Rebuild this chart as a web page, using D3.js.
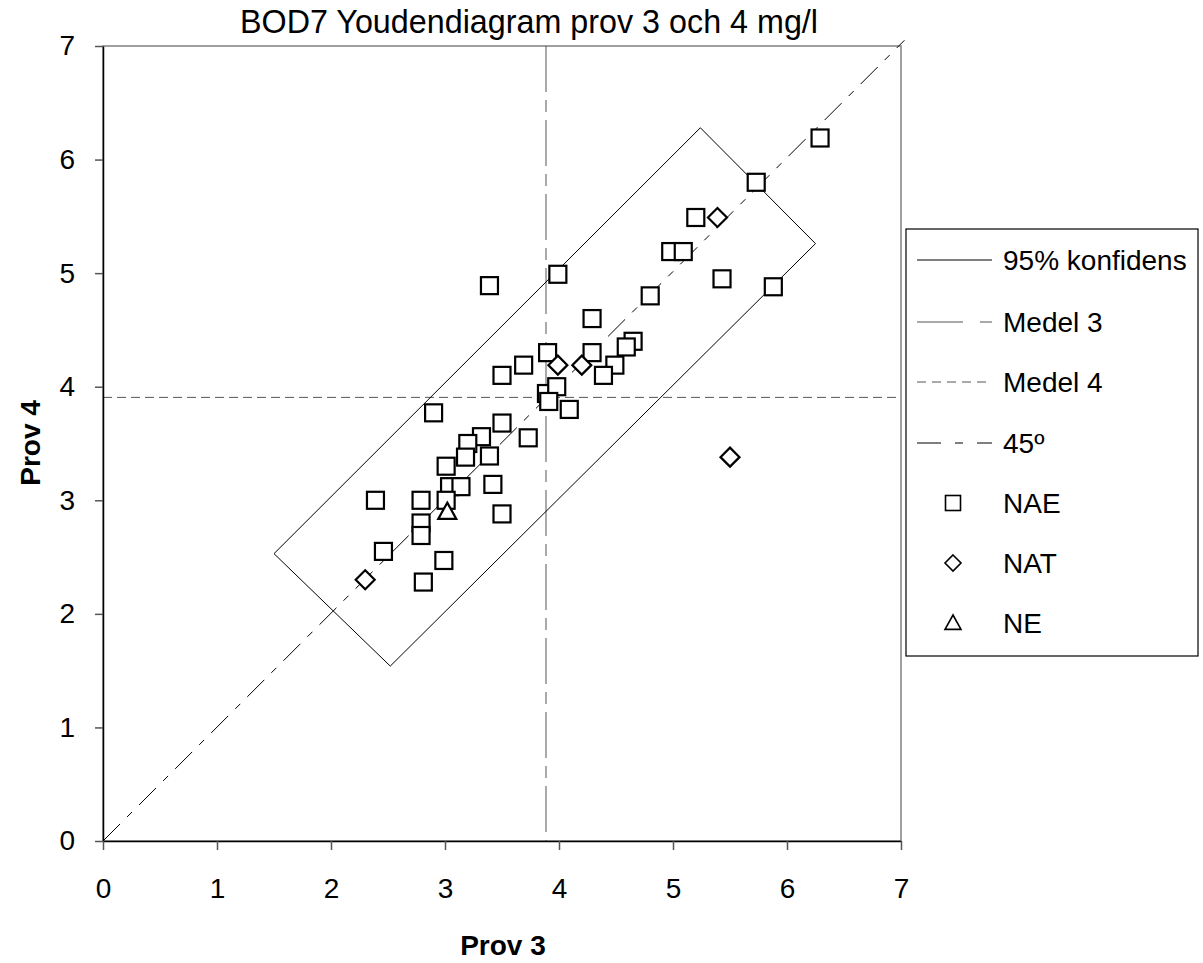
<!DOCTYPE html>
<html>
<head>
<meta charset="utf-8">
<script src="https://cdn.jsdelivr.net/npm/d3@7"></script>
<style>
  html, body { margin: 0; padding: 0; background: #fff; }
  svg { display: block; font-family: "Liberation Sans", Arial, sans-serif; }
</style>
</head>
<body>
<svg id="chart" width="1203" height="963"></svg>
<script>
// ---- data ----
const xTicks = [0, 1, 2, 3, 4, 5, 6, 7];
const yTicks = [0, 1, 2, 3, 4, 5, 6, 7];

const naeX = [6.29, 5.73, 5.20, 4.98, 5.09, 5.43, 5.88, 3.99, 3.39, 4.80, 4.29, 4.65, 4.59, 4.29, 3.90,
              3.69, 4.49, 3.50, 4.39, 3.89, 3.98, 3.91, 4.09, 2.90, 3.50, 3.73, 3.32, 3.20, 3.18, 3.39,
              3.01, 3.04, 3.14, 3.42, 2.39, 2.79, 3.01, 3.50, 2.79, 2.79, 2.46, 2.99, 2.81];
const naeY = [6.19, 5.80, 5.49, 5.19, 5.19, 4.95, 4.88, 4.99, 4.89, 4.80, 4.60, 4.40, 4.35, 4.30, 4.30,
              4.19, 4.19, 4.10, 4.10, 3.94, 4.00, 3.87, 3.80, 3.77, 3.68, 3.55, 3.56, 3.50, 3.38, 3.39,
              3.30, 3.12, 3.12, 3.14, 3.00, 3.00, 3.00, 2.88, 2.80, 2.69, 2.55, 2.47, 2.28];
const natX = [5.39, 3.99, 4.20, 5.50, 2.30];
const natY = [5.49, 4.19, 4.19, 3.38, 2.30];
const neX = [3.02];
const neY = [2.90];

// 95% confidence rectangle vertices (prov 3, prov 4)
const confX = [5.24, 6.25, 2.52, 1.50, 5.24];
const confY = [6.28, 5.26, 1.54, 2.53, 6.28];

const medel3 = 3.886;
const medel4 = 3.906;

const legendLabels = ["95% konfidens", "Medel 3", "Medel 4", "45º", "NAE", "NAT", "NE"];

// ---- drawing ----
const svg = d3.select("#chart");
const x = d3.scaleLinear().domain([0, 7]).range([103, 901]);
const y = d3.scaleLinear().domain([0, 7]).range([841, 46]);

// frame (top / right gray)
svg.append("rect")
  .attr("x", x(0)).attr("y", y(7))
  .attr("width", x(7) - x(0)).attr("height", y(0) - y(7))
  .attr("fill", "none").attr("stroke", "#808080").attr("stroke-width", 1.5);

const plot = svg.append("g");

// Medel 3 vertical
plot.append("line")
  .attr("x1", x(medel3)).attr("x2", x(medel3))
  .attr("y1", y(7)).attr("y2", y(0))
  .attr("stroke", "#555").attr("stroke-width", 1)
  .attr("stroke-dasharray", "46,8,12,8");

// Medel 4 horizontal
plot.append("line")
  .attr("x1", x(0)).attr("x2", x(7))
  .attr("y1", y(medel4)).attr("y2", y(medel4))
  .attr("stroke", "#555").attr("stroke-width", 1)
  .attr("stroke-dasharray", "9,5");

// 45 degree line
plot.append("line")
  .attr("x1", x(0)).attr("y1", y(0))
  .attr("x2", x(7.03)).attr("y2", y(7.05))
  .attr("stroke", "#000").attr("stroke-width", 1)
  .attr("stroke-dasharray", "24,10,7,10");

// confidence rectangle
const line = d3.line().x(d => x(d[0])).y(d => y(d[1]));
plot.append("path")
  .attr("d", line(confX.map((v, i) => [v, confY[i]])))
  .attr("fill", "none").attr("stroke", "#000").attr("stroke-width", 1);

// axes
const yAxis = d3.axisLeft(y).tickValues(yTicks).tickSize(8).tickSizeOuter(0).tickPadding(20)
  .tickFormat(d3.format("d"));
const gy = svg.append("g").attr("transform", `translate(${x(0)},0)`).call(yAxis);
gy.select(".domain").attr("stroke", "#000").attr("stroke-width", 1.5);
gy.selectAll(".tick line").attr("stroke", "#555").attr("stroke-width", 1.5);
gy.selectAll(".tick text").attr("font-size", 28).attr("fill", "#000")
  .attr("font-family", "Liberation Sans, Arial, sans-serif");

const xAxis = d3.axisBottom(x).tickValues(xTicks).tickSize(9).tickSizeOuter(0).tickPadding(28)
  .tickFormat(d3.format("d"));
const gx = svg.append("g").attr("transform", `translate(0,${y(0)})`).call(xAxis);
gx.select(".domain").attr("stroke", "#000").attr("stroke-width", 1.5);
gx.selectAll(".tick line").attr("stroke", "#555").attr("stroke-width", 1.5);
gx.selectAll(".tick text").attr("font-size", 28).attr("fill", "#000")
  .attr("font-family", "Liberation Sans, Arial, sans-serif");

// markers
const sq = 17, dia = 9.5, tri = 9;
function drawSquare(g, cx, cy, s, sw) {
  g.append("rect").attr("x", cx - s / 2).attr("y", cy - s / 2)
    .attr("width", s).attr("height", s)
    .attr("fill", "#fff").attr("stroke", "#000").attr("stroke-width", sw);
}
function drawDiamond(g, cx, cy, r, sw) {
  g.append("path").attr("d", `M${cx},${cy - r}L${cx + r},${cy}L${cx},${cy + r}L${cx - r},${cy}Z`)
    .attr("fill", "#fff").attr("stroke", "#000").attr("stroke-width", sw);
}
function drawTriangle(g, cx, cy, r, sw) {
  g.append("path").attr("d", `M${cx},${cy - r}L${cx + r},${cy + r * 0.8}L${cx - r},${cy + r * 0.8}Z`)
    .attr("fill", "#fff").attr("stroke", "#000").attr("stroke-width", sw);
}
const mg = svg.append("g");
naeX.forEach((v, i) => drawSquare(mg, x(v), y(naeY[i]), sq, 2.2));
natX.forEach((v, i) => drawDiamond(mg, x(v), y(natY[i]), dia, 2.2));
neX.forEach((v, i) => drawTriangle(mg, x(v), y(neY[i]), tri, 2.2));

// titles
svg.append("text").attr("x", 529).attr("y", 33).attr("text-anchor", "middle")
  .attr("font-size", 34).attr("textLength", 578).attr("lengthAdjust", "spacingAndGlyphs")
  .text("BOD7 Youdendiagram prov 3 och 4 mg/l");
svg.append("text").attr("x", 503).attr("y", 955).attr("text-anchor", "middle")
  .attr("font-size", 28).attr("font-weight", "bold").text("Prov 3");
svg.append("text").attr("transform", "translate(40,443) rotate(-90)").attr("text-anchor", "middle")
  .attr("font-size", 28).attr("font-weight", "bold").text("Prov 4");

// legend
const lg = svg.append("g");
lg.append("rect").attr("x", 906).attr("y", 229).attr("width", 292).attr("height", 427)
  .attr("fill", "#fff").attr("stroke", "#000").attr("stroke-width", 1.2);
const rowY = [260, 322, 382, 443, 503, 563, 623];
const lx1 = 917, lx2 = 992, lmx = 953;
legendLabels.forEach((lab, i) => {
  const cy = rowY[i];
  if (i === 0) {
    lg.append("line").attr("x1", lx1).attr("x2", lx2).attr("y1", cy).attr("y2", cy)
      .attr("stroke", "#000").attr("stroke-width", 1);
  } else if (i === 1) {
    lg.append("line").attr("x1", lx1).attr("x2", lx2).attr("y1", cy).attr("y2", cy)
      .attr("stroke", "#555").attr("stroke-width", 1).attr("stroke-dasharray", "46,17,12,8");
  } else if (i === 2) {
    lg.append("line").attr("x1", lx1).attr("x2", lx2 - 4).attr("y1", cy).attr("y2", cy)
      .attr("stroke", "#555").attr("stroke-width", 1).attr("stroke-dasharray", "9,6");
  } else if (i === 3) {
    lg.append("line").attr("x1", lx1).attr("x2", lx2).attr("y1", cy).attr("y2", cy)
      .attr("stroke", "#000").attr("stroke-width", 1).attr("stroke-dasharray", "24,14,8,14");
  } else if (i === 4) {
    drawSquare(lg, lmx, cy, 15, 1.6);
  } else if (i === 5) {
    drawDiamond(lg, lmx, cy, 8, 1.6);
  } else {
    drawTriangle(lg, lmx, cy, 8, 1.6);
  }
  lg.append("text").attr("x", 1003).attr("y", cy + 10).attr("font-size", 28).text(lab);
});
</script>
</body>
</html>
